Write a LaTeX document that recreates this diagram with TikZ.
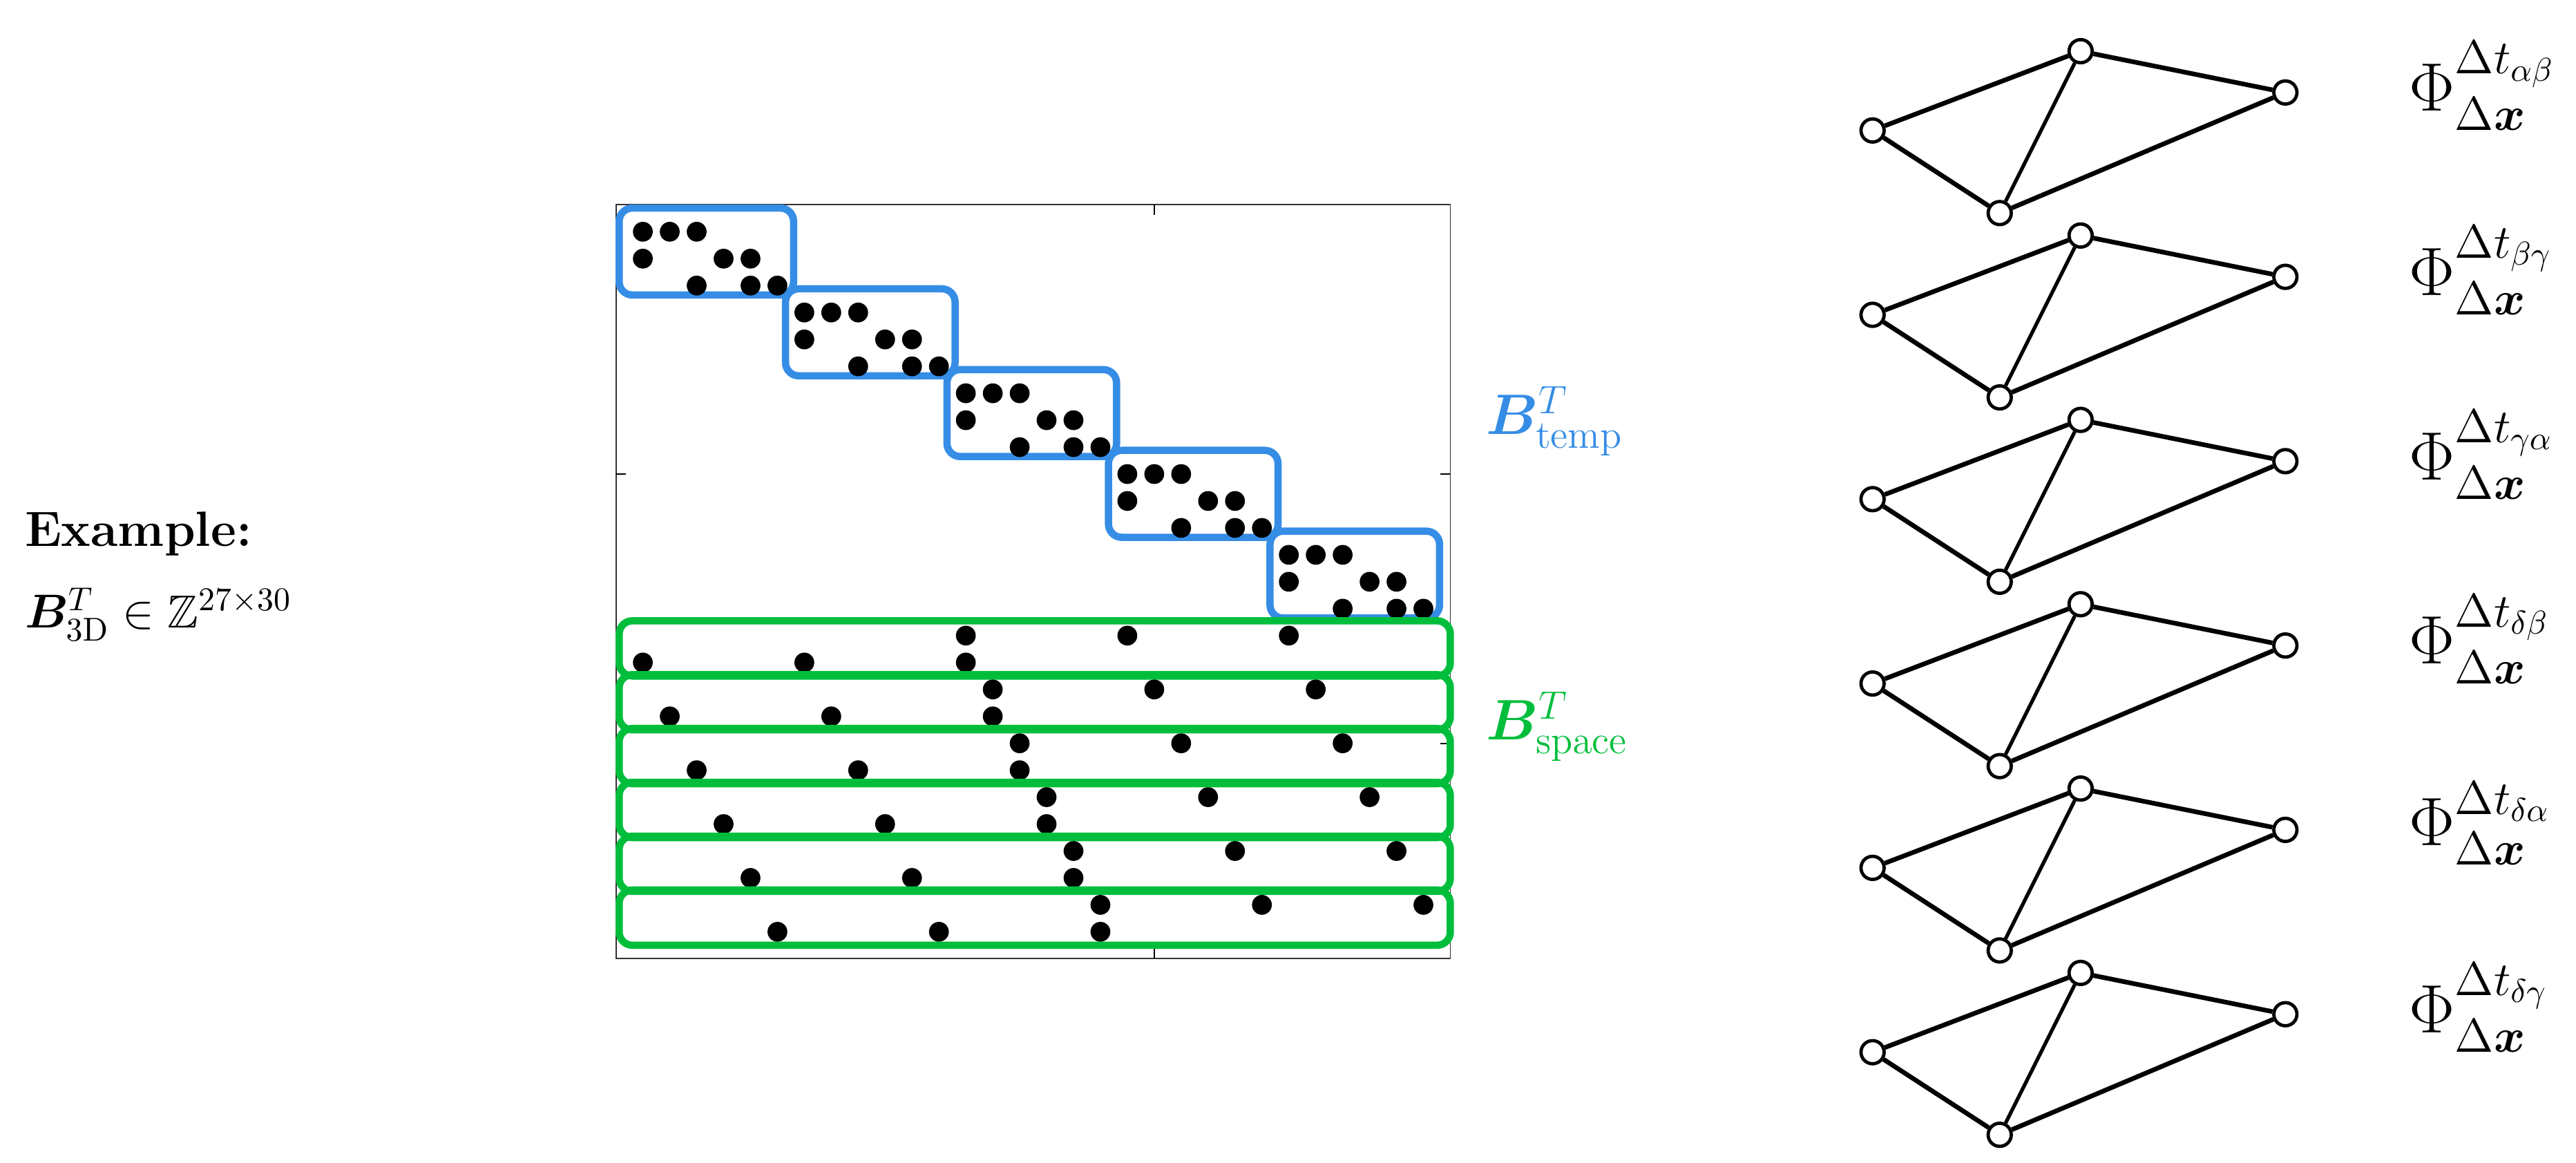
\documentclass[tikz,border=0pt]{standalone}
\usepackage{amsmath,amssymb,bm}
\definecolor{tblue}{HTML}{368DE6}
\definecolor{sgreen}{HTML}{00BE3C}
\begin{document}
\begin{tikzpicture}[x=0.5pt,y=-0.5pt,
  dot/.style={circle,fill=black,inner sep=0pt,minimum size=6pt},
  tbox/.style={draw=tblue,line width=2.2pt,rounded corners=4pt},
  sbox/.style={draw=sgreen,line width=2.2pt,rounded corners=4pt},
  gnode/.style={circle,draw=black,fill=white,line width=1pt,inner sep=0pt,minimum size=7pt},
  gedge/.style={line width=1.4pt},
  lbl/.style={font=\fontsize{17}{20}\selectfont},
  plbl/.style={font=\fontsize{20}{24}\selectfont}]
\useasboundingbox (0,0) rectangle (1560,704);
\newcommand{\pt}[2]{({373+16.3*(#1)},{124+16.3*(#2)})}
\draw[line width=0.4pt,draw=black!80] \pt{0}{0} rectangle \pt{31}{28};
\draw[line width=0.4pt] \pt{20}{0} -- ++(0,6) \pt{20}{28} -- ++(0,-6)
  \pt{0}{10} -- ++(6,0) \pt{31}{10} -- ++(-6,0) \pt{31}{20} -- ++(-6,0);
% temporal blocks
\foreach \b in {0,...,4}{
  \pgfmathsetmacro{\cl}{\b==0 ? 0.12 : 6*\b+0.3}
  \draw[tbox] \pt{\cl}{3*\b+0.12} rectangle \pt{6*\b+6.6}{3*\b+3.35};
  \foreach \c/\r in {1/1,2/1,3/1,1/2,4/2,5/2,3/3,5/3,6/3}
    \node[dot] at \pt{6*\b+\c}{3*\b+\r} {};
}
% space blocks
\foreach \k in {0,...,5}{
  \draw[sbox] \pt{0.12}{15.45+2*\k} rectangle \pt{31}{17.5+2*\k};
  \foreach \c in {13,19,25} \node[dot] at \pt{\c+\k}{16+2*\k} {};
  \foreach \c in {1,7,13} \node[dot] at \pt{\c+\k}{17+2*\k} {};
}
\node[text=tblue,lbl,anchor=west] (bt) at (893,255) {$\bm{B}^{T}_{\mathrm{temp}}$};
\node[text=sgreen,lbl,anchor=west] (bs) at (893,440) {$\bm{B}^{T}_{\mathrm{space}}$};
% left text
\node[anchor=west,font=\fontsize{15}{18}\selectfont\bfseries] (ex) at (8,323) {Example:};
\node[anchor=west,font=\fontsize{14}{17}\selectfont] (bd) at (8,372) {$\bm{B}^{T}_{\mathrm{3D}}\in\mathbb{Z}^{27\times 30}$};
% graphs
\foreach \k/\s in {0/{\alpha\beta},1/{\beta\gamma},2/{\gamma\alpha},3/{\delta\beta},4/{\delta\alpha},5/{\delta\gamma}}{
  \begin{scope}[yshift={-0.5pt*111.6*\k}]
  \node[gnode] (L\k) at (1134,79) {};
  \node[gnode] (T\k) at (1260,31) {};
  \node[gnode] (B\k) at (1211,129) {};
  \node[gnode] (R\k) at (1384,56) {};
  \draw[gedge] (L\k) -- (T\k) (L\k) -- (B\k) (T\k) -- (R\k) (B\k) -- (R\k);
  \draw[line width=1.1pt] (T\k) -- (B\k);
  \node[plbl,anchor=west] (P\k) at (1452,52) {$\Phi^{\Delta t_{\s}}_{\Delta\bm{x}}$};
  \end{scope}
}
\end{tikzpicture}
\end{document}
